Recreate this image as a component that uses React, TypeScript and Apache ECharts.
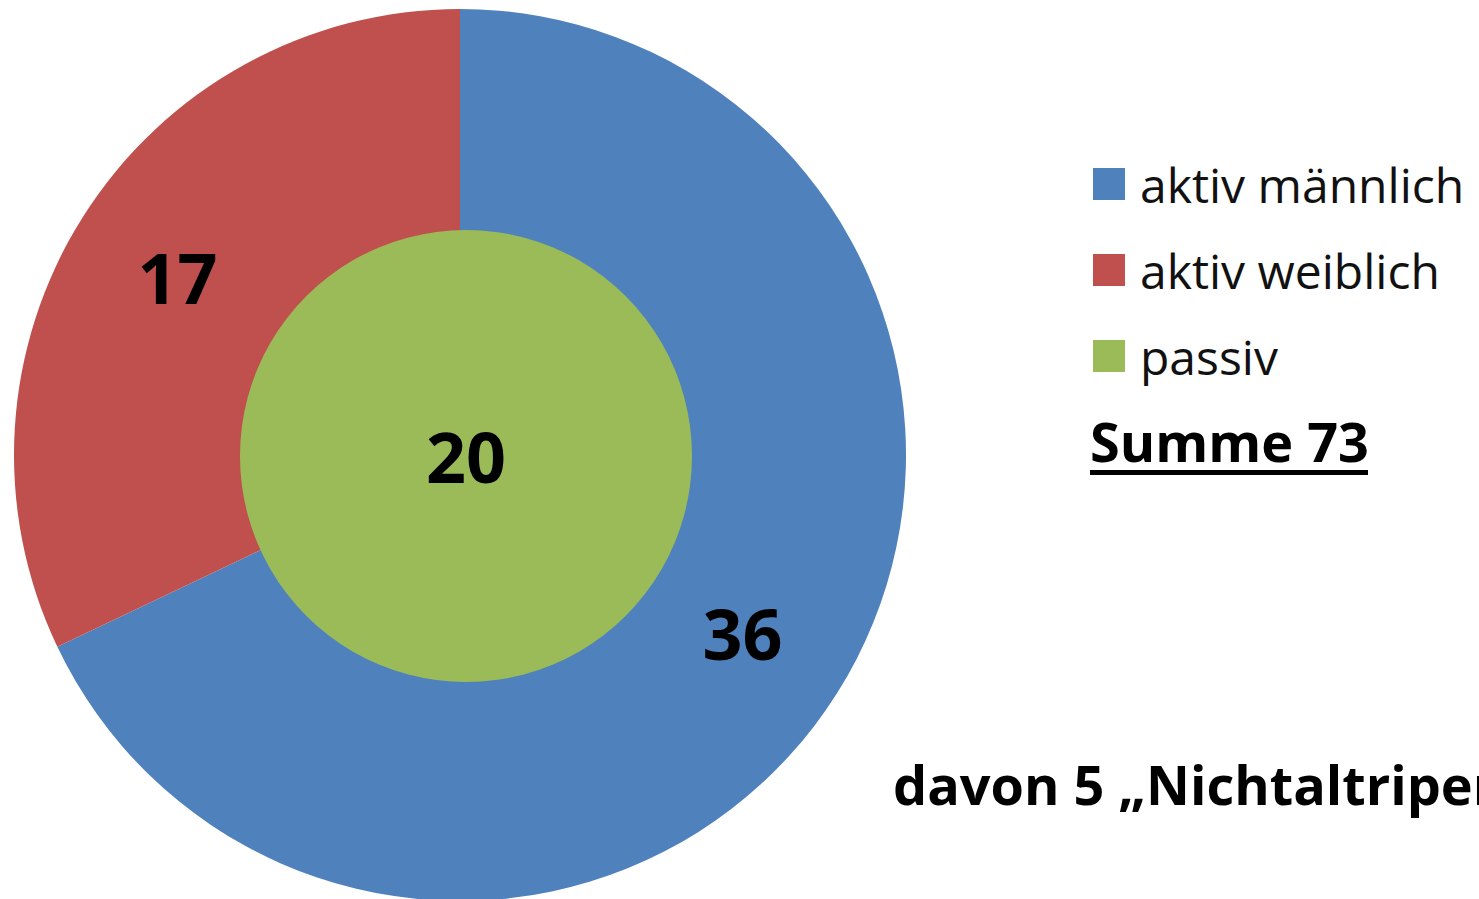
import React, { useEffect, useRef } from "react";
import * as echarts from "echarts";

const outerNames = ["aktiv männlich", "aktiv weiblich"];
const outerValues = [36, 17];
const innerNames = ["passiv"];
const innerValues = [20];
const legendNames = ["aktiv männlich", "aktiv weiblich", "passiv"];
const colors = ["#4F81BD", "#C0504D", "#9BBB59"];
const sumText = "Summe 73";
const noteText = "davon 5 „Nichtaltriper";

const FONT = "'Open Sans', 'Noto Sans', sans-serif";

export default function App() {
  const ref = useRef<HTMLDivElement>(null);
  useEffect(() => {
    document.body.style.margin = "0";
    const chart = echarts.init(ref.current!, null, { renderer: "svg" });
    const labelStyle = {
      fontFamily: FONT,
      fontWeight: "bold" as const,
      fontSize: 70,
      color: "#000",
    };
    chart.setOption({
      animation: false,
      backgroundColor: "#fff",
      legend: {
        data: legendNames,
        orient: "vertical",
        left: 1093,
        top: 160,
        padding: 0,
        icon: "rect",
        itemWidth: 32,
        itemHeight: 32,
        itemGap: 38,
        selectedMode: false,
        textStyle: {
          fontFamily: FONT,
          fontSize: 48,
          color: "#111",
          padding: [0, 0, 0, 10],
        },
      },
      series: [
        {
          type: "pie",
          center: [460, 455],
          radius: [216, 446],
          startAngle: 90,
          clockwise: true,
          silent: true,
          color: [colors[0], colors[1]],
          label: { show: true, position: "inside", formatter: "{c}", ...labelStyle },
          labelLine: { show: false },
          emphasis: { disabled: true },
          itemStyle: { borderWidth: 0 },
          data: outerNames.map((n, i) => ({ name: n, value: outerValues[i] })),
        },
        {
          type: "pie",
          center: [466, 456],
          radius: [0, 226],
          silent: true,
          color: [colors[2]],
          label: { show: true, position: "center", formatter: "{c}", ...labelStyle },
          labelLine: { show: false },
          emphasis: { disabled: true },
          itemStyle: { borderWidth: 0 },
          data: innerNames.map((n, i) => ({ name: n, value: innerValues[i] })),
        },
      ],
      graphic: [
        {
          type: "text",
          left: 1090,
          top: 414,
          style: {
            text: sumText,
            fontFamily: FONT,
            fontWeight: "bold",
            fontSize: 54,
            fill: "#000",
          },
        },
        {
          type: "rect",
          shape: { x: 1090, y: 470, width: 278, height: 5 },
          style: { fill: "#000" },
        },
        {
          type: "text",
          left: 893,
          top: 757,
          style: {
            text: noteText,
            fontFamily: FONT,
            fontWeight: "bold",
            fontSize: 54,
            fill: "#000",
          },
        },
      ],
    });
    return () => chart.dispose();
  }, []);
  return <div ref={ref} style={{ width: 1479, height: 899 }} />;
}
